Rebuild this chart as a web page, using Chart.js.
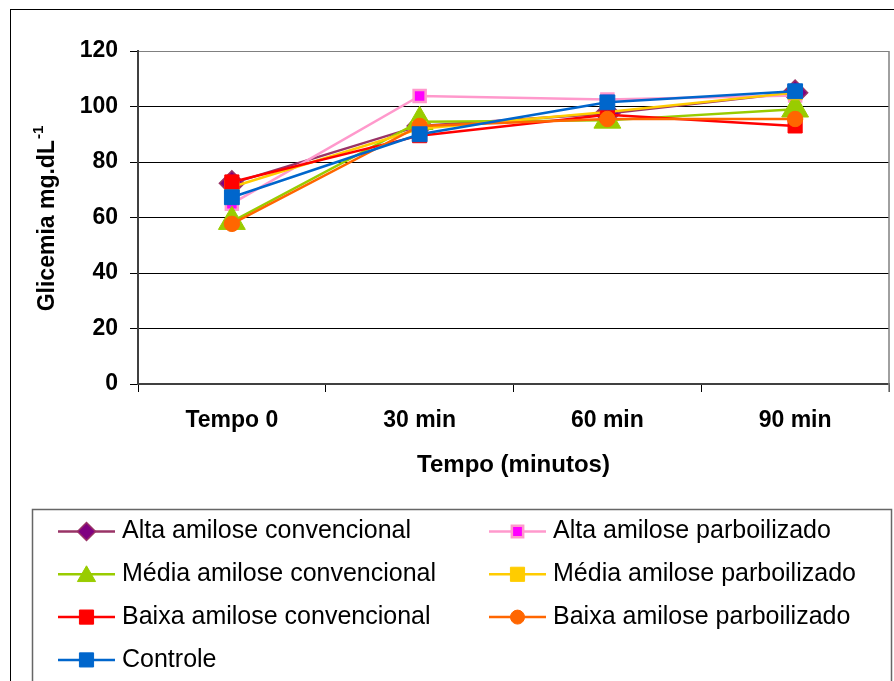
<!DOCTYPE html>
<html>
<head>
<meta charset="utf-8">
<script src="https://cdn.jsdelivr.net/npm/chart.js@4.4.0/dist/chart.umd.min.js"></script>
<style>
  html, body { margin: 0; padding: 0; background: #fff; }
  canvas { display: block; }
</style>
</head>
<body>
<canvas id="grafico" width="894" height="681"></canvas>
<script>
// valores (mg/dL)
const tempos = ['Tempo 0', '30 min', '60 min', '90 min'];
const altaConvencional = [72.3, 93, 97.5, 105];
const altaParboilizado = [65, 103.8, 102.5, 104];
const mediaConvencional = [58.5, 94.5, 95, 99];
const mediaParboilizado = [71, 92, 98, 105];
const baixaConvencional = [72.8, 89.5, 97, 93];
const baixaParboilizado = [57.7, 93, 95.5, 95.5];
const controle = [67.3, 90, 101.5, 105.5];
const yTicks = [0, 20, 40, 60, 80, 100, 120];

const fonte = '"Liberation Sans", Arial, sans-serif';
Chart.defaults.font.family = fonte;

function serie(label, data, linha, preenchimento, borda, estilo, raio, bw, raioLegenda) {
    return {
        label: label,
        data: data,
        borderColor: linha,
        backgroundColor: preenchimento,
        borderWidth: 2.5,
        pointStyle: estilo,
        pointRadius: raio,
        pointHoverRadius: raio,
        pointBackgroundColor: preenchimento,
        pointBorderColor: borda,
        pointBorderWidth: bw,
        raioLegenda: raioLegenda,
        fill: false,
        tension: 0
    };
}

const datasets = [
    serie('Alta amilose convencional', altaConvencional, '#993366', '#800080', '#993366', 'rectRot', 12.5, 1.5, 9),
    serie('Alta amilose parboilizado', altaParboilizado, '#FF99CC', '#FF00FF', '#FF99CC', 'rect', 8.5, 2.5, 8),
    serie('Média amilose convencional', mediaConvencional, '#99CC00', '#99CC00', '#99CC00', 'triangle', 15.5, 1, 10.5),
    serie('Média amilose parboilizado', mediaParboilizado, '#FFCC00', '#FFCC00', '#FFCC00', 'rect', 10, 1, 10),
    serie('Baixa amilose convencional', baixaConvencional, '#FF0000', '#FF0000', '#FF0000', 'rect', 10, 1, 10),
    serie('Baixa amilose parboilizado', baixaParboilizado, '#FF6600', '#FF6600', '#FF6600', 'circle', 7.7, 1, 7),
    serie('Controle', controle, '#0066CC', '#0066CC', '#0066CC', 'rect', 10.5, 1, 10)
];
// a última série fica por cima, como no original
datasets.forEach((d, i) => { d.order = datasets.length - i; });

const moldura = {
    id: 'moldura',
    beforeDraw(chart) {
        const ctx = chart.ctx;
        ctx.save();
        ctx.fillStyle = '#fff';
        ctx.fillRect(0, 0, chart.width, chart.height);
        ctx.strokeStyle = '#000';
        ctx.lineWidth = 1;
        ctx.strokeRect(10.5, 9.5, 950, 750);
        ctx.restore();
    },
    beforeDatasetsDraw(chart) {
        const { ctx, chartArea } = chart;
        ctx.save();
        ctx.strokeStyle = '#808080';
        ctx.lineWidth = 1.5;
        ctx.beginPath();
        ctx.moveTo(chartArea.right, chartArea.top);
        ctx.lineTo(chartArea.right, chartArea.bottom + 8);
        ctx.stroke();
        ctx.restore();
    },
    afterDraw(chart) {
        const { ctx, chartArea } = chart;
        ctx.save();
        ctx.fillStyle = '#000';

        // titulo eixo x
        ctx.font = 'bold 24px ' + fonte;
        ctx.textAlign = 'center';
        ctx.textBaseline = 'middle';
        ctx.fillText('Tempo (minutos)', (chartArea.left + chartArea.right) / 2, 465);

        // titulo eixo y com sobrescrito
        ctx.save();
        ctx.translate(48, 219);
        ctx.rotate(-Math.PI / 2);
        ctx.textAlign = 'left';
        ctx.font = 'bold 23px ' + fonte;
        const principal = 'Glicemia mg.dL';
        const wPrin = ctx.measureText(principal).width;
        ctx.font = 'bold 15px ' + fonte;
        const wSup = ctx.measureText('-1').width;
        const ini = -(wPrin + wSup) / 2;
        ctx.font = 'bold 23px ' + fonte;
        ctx.fillText(principal, ini, 0);
        ctx.font = 'bold 15px ' + fonte;
        ctx.fillText('-1', ini + wPrin + 1, -9);
        ctx.restore();

        // legenda
        ctx.strokeStyle = '#666';
        ctx.lineWidth = 1.5;
        ctx.strokeRect(32.5, 509.5, 859, 250);
        ctx.font = '25px ' + fonte;
        ctx.textAlign = 'left';
        ctx.textBaseline = 'middle';
        chart.data.datasets.forEach((ds, i) => {
            const col = i % 2;
            const row = Math.floor(i / 2);
            const x0 = col === 0 ? 58 : 489;
            const y = 531.5 + row * 42.8;
            ctx.strokeStyle = ds.borderColor;
            ctx.lineWidth = ds.borderWidth;
            ctx.beginPath();
            ctx.moveTo(x0, y);
            ctx.lineTo(x0 + 57, y);
            ctx.stroke();
            ctx.fillStyle = ds.pointBackgroundColor;
            ctx.strokeStyle = ds.pointBorderColor;
            ctx.lineWidth = ds.pointBorderWidth;
            Chart.helpers.drawPoint(ctx, {
                pointStyle: ds.pointStyle,
                radius: ds.raioLegenda,
                rotation: 0,
                borderWidth: ds.pointBorderWidth
            }, x0 + 28.5, ds.pointStyle === 'triangle' ? y + 2 : y);
            ctx.fillStyle = '#000';
            ctx.fillText(ds.label, x0 + 64, y);
        });
        ctx.restore();
    }
};

new Chart(document.getElementById('grafico'), {
    type: 'line',
    data: {
        labels: tempos,
        datasets: datasets
    },
    options: {
        responsive: false,
        animation: false,
        devicePixelRatio: 1,
        layout: {
            autoPadding: false,
            padding: { top: 51, right: 5, left: 0, bottom: 0 }
        },
        plugins: {
            legend: { display: false },
            tooltip: { enabled: false }
        },
        scales: {
            x: {
                offset: true,
                grid: {
                    offset: true,
                    drawOnChartArea: false,
                    drawTicks: true,
                    tickLength: 8,
                    tickColor: '#000'
                },
                border: { display: true, color: '#404040', width: 2 },
                ticks: {
                    color: '#000',
                    padding: 15,
                    font: { size: 23, weight: 'bold' }
                },
                afterFit(scale) {
                    scale.height = 297;
                    scale.paddingLeft = 0;
                    scale.paddingRight = 0;
                }
            },
            y: {
                min: 0,
                max: 120,
                afterBuildTicks(scale) {
                    scale.ticks = yTicks.map(v => ({ value: v }));
                },
                grid: {
                    color: (c) => (c.tick && c.tick.value === 120 ? '#808080' : '#000'),
                    lineWidth: 1,
                    drawTicks: true,
                    tickLength: 8,
                    tickColor: '#000'
                },
                border: { display: true, color: '#404040', width: 2 },
                ticks: {
                    color: '#000',
                    padding: 12,
                    font: { size: 23, weight: 'bold' }
                },
                afterFit(scale) {
                    scale.width = 138;
                    scale.paddingTop = 0;
                    scale.paddingBottom = 0;
                }
            }
        }
    },
    plugins: [moldura]
});
</script>
</body>
</html>
